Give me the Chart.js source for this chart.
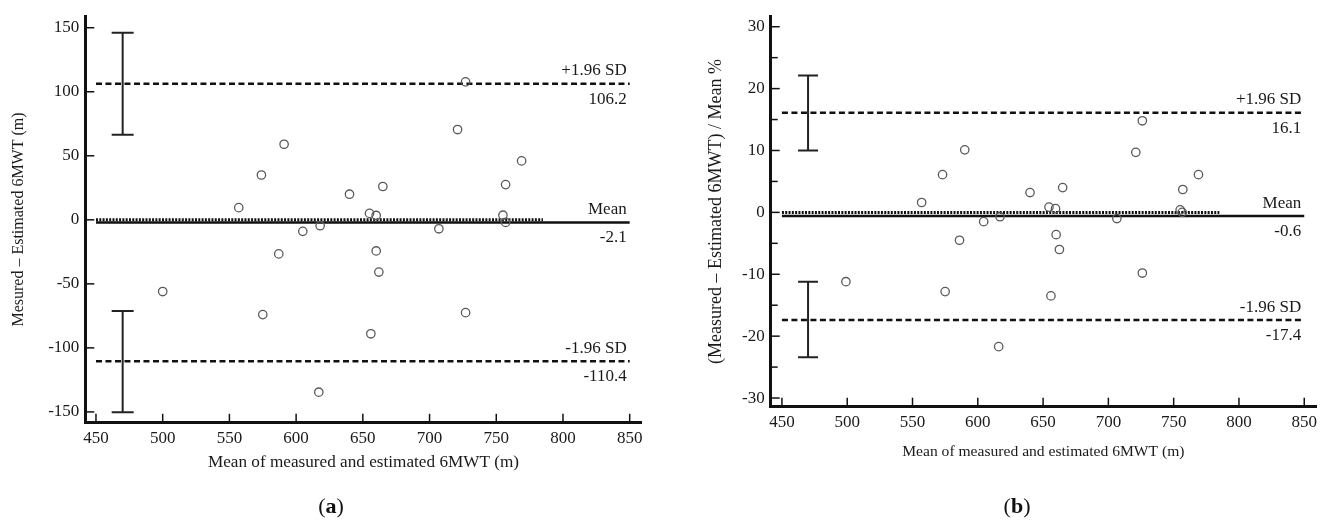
<!DOCTYPE html>
<html>
<head>
<meta charset="utf-8">
<script src="https://cdn.jsdelivr.net/npm/chart.js@4.4.1/dist/chart.umd.min.js"></script>
<style>
  body { margin: 0; background: #fff; width: 1328px; height: 525px; position: relative; overflow: hidden; }
  .panel { position: absolute; top: 0; width: 664px; height: 525px; }
  .tag { position: absolute; width: 60px; text-align: center; font: 22px "Liberation Serif", "DejaVu Serif", serif; color: #111; top: 493px; }
  .tag b { font-weight: bold; }
</style>
</head>
<body>
<div class="panel" style="left:0"><canvas id="chartA" width="664" height="525"></canvas></div>
<div class="panel" style="left:664px"><canvas id="chartB" width="664" height="525"></canvas></div>
<div class="tag" style="left:301px">(<b>a</b>)</div>
<div class="tag" style="left:987px">(<b>b</b>)</div>
<script>
// Données (a) : différence en mètres
const meanA = [557, 574, 591, 640, 665, 655, 660, 605, 618, 707, 587, 660, 662, 500, 575, 656, 617, 727, 721, 769, 757, 755, 757, 727];
const diffA = [9.5, 35, 59, 20, 26, 5, 3.4, -9, -4.6, -7, -26.6, -24.3, -40.8, -56, -74, -89, -134.6, 107.7, 70.5, 46, 27.5, 3.6, -2, -72.5];
const statsA = { upper: 106.2, mean: -2.1, lower: -110.4 };
const ciUpperA = [66.5, 146];
const ciLowerA = [-150.2, -71.2];
const yTicksA = [150, 100, 50, 0, -50, -100, -150];

// Données (b) : différence en %
const meanB = [557, 573, 590, 604.5, 617, 586, 499, 575, 616, 640, 665, 654.5, 659.5, 706.5, 660, 662.5, 726, 721, 769, 757, 755, 756.5, 726, 656];
const diffB = [1.6, 6.1, 10.1, -1.5, -0.7, -4.5, -11.2, -12.8, -21.7, 3.2, 4, 0.85, 0.6, -1, -3.6, -6, 14.8, 9.7, 6.1, 3.7, 0.4, 0, -9.8, -13.5];
const statsB = { upper: 16.1, mean: -0.6, lower: -17.4 };
const ciUpperB = [10, 22.1];
const ciLowerB = [-23.4, -11.2];
const yTicksB = [30, 20, 10, 0, -10, -20, -30];
const yMinorB = [25, 15, 5, -5, -15, -25];

// Axe commun
const xTicks = [450, 500, 550, 600, 650, 700, 750, 800, 850];
const ciX = 470;
const zeroLineEnd = 785;

Chart.defaults.font.family = '"Liberation Serif", "Times New Roman", serif';
Chart.defaults.font.size = 17;
Chart.defaults.color = '#1a1a1a';

// Petits traits de graduation tournés vers l'intérieur + étiquettes des lignes
const blandAltman = {
    id: 'blandAltman',
    afterDatasetsDraw(chart, args, opts) {
        const { ctx, scales: { x, y } } = chart;
        ctx.save();
        ctx.strokeStyle = '#111';
        ctx.lineWidth = 1.5;
        const tick = (x1, y1, x2, y2) => { ctx.beginPath(); ctx.moveTo(x1, y1); ctx.lineTo(x2, y2); ctx.stroke(); };
        xTicks.forEach(v => { const px = x.getPixelForValue(v); tick(px, y.bottom, px, y.bottom - 9); });
        opts.yTicks.forEach(v => { const py = y.getPixelForValue(v); tick(x.left, py, x.left + 9, py); });
        (opts.yMinor || []).forEach(v => { const py = y.getPixelForValue(v); tick(x.left, py, x.left + 7, py); });

        ctx.font = '17px "Liberation Serif", "Times New Roman", serif';
        ctx.fillStyle = '#1a1a1a';
        ctx.textAlign = 'right';
        ctx.textBaseline = 'middle';
        const xr = x.getPixelForValue(850) - 3;
        const s = opts.stats;
        [['+1.96 SD', s.upper], ['Mean', s.mean], ['-1.96 SD', s.lower]].forEach(([name, v]) => {
            const py = y.getPixelForValue(v);
            ctx.fillText(name, xr, py - 13);
            ctx.fillText(v.toFixed(1), xr, py + 15.5);
        });
        ctx.restore();
    }
};

function hline(v, end, style) {
    return Object.assign({
        type: 'line',
        data: [{ x: 450, y: v }, { x: end, y: v }],
        borderColor: '#111',
        pointRadius: 0,
        fill: false
    }, style);
}

function errBar(ci, capRadius) {
    return {
        type: 'line',
        data: ci.map(v => ({ x: ciX, y: v })),
        borderColor: '#222',
        borderWidth: 2,
        pointStyle: 'line',
        pointRadius: capRadius,
        pointBorderWidth: 2,
        pointBorderColor: '#222',
        fill: false
    };
}

function createChart(id, cfg) {
    const ctx = document.getElementById(id).getContext('2d');
    return new Chart(ctx, {
        type: 'scatter',
        data: {
            datasets: [
                {
                    data: cfg.xs.map((v, i) => ({ x: v, y: cfg.ys[i] })),
                    pointStyle: 'circle',
                    pointRadius: 4.2,
                    borderColor: '#5a5a5a',
                    borderWidth: 1.3,
                    backgroundColor: 'rgba(0,0,0,0)'
                },
                hline(cfg.stats.upper, 850, { borderWidth: 2.5, borderDash: [6, 3.5] }),
                hline(cfg.stats.mean, 850, { borderWidth: 2.5 }),
                hline(0, zeroLineEnd, { borderWidth: 3, borderDash: [2, 1.3] }),
                hline(cfg.stats.lower, 850, { borderWidth: 2.5, borderDash: [6, 3.5] }),
                errBar(cfg.ciUpper, cfg.cap),
                errBar(cfg.ciLower, cfg.cap)
            ]
        },
        options: {
            responsive: false,
            animation: false,
            events: [],
            layout: { padding: cfg.padding },
            plugins: {
                legend: { display: false },
                tooltip: { enabled: false },
                blandAltman: { yTicks: cfg.yTicks, yMinor: cfg.yMinor, stats: cfg.stats }
            },
            scales: {
                x: {
                    type: 'linear',
                    min: cfg.xMin, max: 859,
                    afterBuildTicks: s => { s.ticks = xTicks.map(v => ({ value: v })); },
                    afterFit: s => { s.height = cfg.xHeight; },
                    grid: { drawOnChartArea: false, drawTicks: false },
                    border: { display: true, width: 3, color: '#111' },
                    ticks: { padding: 6 },
                    title: { display: true, text: 'Mean of measured and estimated 6MWT (m)', font: { size: cfg.xTitleSize }, padding: { top: 0, bottom: 4 } }
                },
                y: {
                    type: 'linear',
                    min: cfg.yMin, max: cfg.yMax,
                    afterBuildTicks: s => { s.ticks = cfg.yTicks.map(v => ({ value: v })); },
                    afterFit: s => { s.width = cfg.yWidth; },
                    grid: { drawOnChartArea: false, drawTicks: false },
                    border: { display: true, width: 3, color: '#111' },
                    ticks: { padding: 6 },
                    title: { display: true, text: cfg.yTitle, font: { size: cfg.yTitleSize }, padding: { top: 9, bottom: 0 } }
                }
            }
        },
        plugins: [blandAltman]
    });
}

createChart('chartA', {
    xs: meanA, ys: diffA, stats: statsA, ciUpper: ciUpperA, ciLower: ciLowerA,
    yTicks: yTicksA, yMinor: [], cap: 11,
    xMin: 442, yMin: -158.5, yMax: 159,
    padding: { left: 0, right: 22.3, top: 10, bottom: 48 },
    xHeight: 54.2, yWidth: 85.3,
    xTitleSize: 17.2, yTitleSize: 16,
    yTitle: 'Mesured – Estimated 6MWT (m)'
});

createChart('chartB', {
    xs: meanB, ys: diffB, stats: statsB, ciUpper: ciUpperB, ciLower: ciLowerB,
    yTicks: yTicksB, yMinor: yMinorB, cap: 10,
    xMin: 441.4, yMin: -31.4, yMax: 31.7,
    padding: { left: 32, right: 11.3, top: 10, bottom: 59.8 },
    xHeight: 58.5, yWidth: 74.7,
    xTitleSize: 15.6, yTitleSize: 18,
    yTitle: '(Measured – Estimated 6MWT) / Mean %'
});
</script>
</body>
</html>
